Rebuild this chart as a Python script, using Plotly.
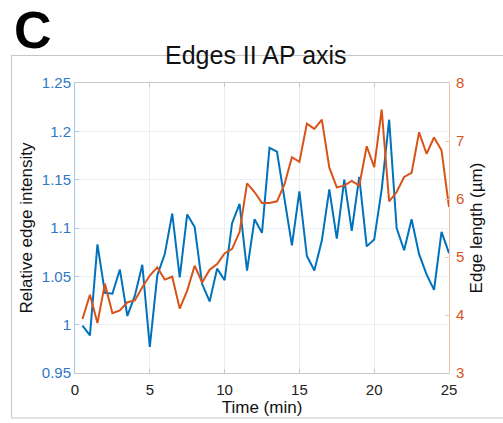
import plotly.graph_objects as go

time_min = [0.5, 1.0, 1.5, 2.0, 2.5, 3.0, 3.5, 4.0, 4.5, 5.0,
            5.5, 6.0, 6.5, 7.0, 7.5, 8.0, 8.5, 9.0, 9.5, 10.0,
            10.5, 11.0, 11.5, 12.0, 12.5, 13.0, 13.5, 14.0, 14.5, 15.0,
            15.5, 16.0, 16.5, 17.0, 17.5, 18.0, 18.5, 19.0, 19.5, 20.0,
            20.5, 21.0, 21.5, 22.0, 22.5, 23.0, 23.5, 24.0, 24.5, 25.0]

rel_intensity = [0.999, 0.989, 1.083, 1.033, 1.032, 1.057, 1.009, 1.030, 1.062, 0.977,
                 1.051, 1.073, 1.115, 1.049, 1.114, 1.101, 1.042, 1.024, 1.058, 1.046,
                 1.105, 1.125, 1.056, 1.109, 1.095, 1.183, 1.179, 1.128, 1.082, 1.138,
                 1.071, 1.056, 1.087, 1.140, 1.089, 1.150, 1.097, 1.153, 1.081, 1.088,
                 1.140, 1.212, 1.100, 1.077, 1.109, 1.073, 1.052, 1.036, 1.096, 1.074]

edge_length = [3.93, 4.35, 3.86, 4.54, 4.03, 4.08, 4.22, 4.25, 4.48, 4.68,
               4.82, 4.61, 4.66, 4.11, 4.42, 4.85, 4.56, 4.78, 4.88, 5.06,
               5.14, 5.43, 6.27, 6.12, 5.93, 5.93, 5.96, 6.25, 6.72, 6.64,
               7.30, 7.21, 7.37, 6.54, 6.20, 6.23, 6.31, 6.23, 6.91, 6.55,
               7.54, 5.96, 6.12, 6.38, 6.45, 7.15, 6.78, 7.06, 6.84, 5.86]

x_ticks = [0, 5, 10, 15, 20, 25]
left_ticks = [0.95, 1.0, 1.05, 1.1, 1.15, 1.2, 1.25]
left_tick_text = ["0.95", "1", "1.05", "1.1", "1.15", "1.2", "1.25"]
right_ticks = [3, 4, 5, 6, 7, 8]

BLUE = "#0072BD"
ORANGE = "#D95319"
FONT = "Liberation Sans, Arial, Helvetica, sans-serif"

fig = go.Figure()
fig.add_trace(go.Scatter(x=time_min, y=rel_intensity, mode="lines",
                         line=dict(color=BLUE, width=2), yaxis="y", showlegend=False))
fig.add_trace(go.Scatter(x=time_min, y=edge_length, mode="lines",
                         line=dict(color=ORANGE, width=2), yaxis="y2", showlegend=False))

fig.update_layout(
    width=503, height=423,
    margin=dict(l=75, r=54, t=83, b=50),
    paper_bgcolor="white", plot_bgcolor="white",
    font=dict(family=FONT, size=15, color="#222222"),
    xaxis=dict(range=[0, 25], tickvals=x_ticks, showgrid=True, gridcolor="#e9eef4",
               zeroline=False, showline=True, linecolor="#c8c8c8", linewidth=1,
               mirror="ticks", ticks="inside", ticklen=4, tickcolor="#c8c8c8",
               ticklabelstandoff=3,
               tickfont=dict(size=15, color="#222222"),
               title=dict(text="Time (min)", font=dict(size=17, color="#111111"), standoff=0)),
    yaxis=dict(range=[0.95, 1.25], tickvals=left_ticks, ticktext=left_tick_text,
               showgrid=True, gridcolor="#e9eef4", zeroline=False,
               showline=True, linecolor="#a9c8e8", linewidth=1,
               ticks="inside", ticklen=4, tickcolor="#a9c8e8",
               tickfont=dict(size=15, color="#2f78c4"),
               title=dict(text="Relative edge intensity", font=dict(size=17, color="#111111"), standoff=4)),
    yaxis2=dict(range=[3, 8], tickvals=right_ticks, overlaying="y", side="right",
                showgrid=False, zeroline=False,
                showline=True, linecolor="#f0c2ab", linewidth=1,
                ticks="inside", ticklen=4, tickcolor="#f0c2ab",
                ticklabelstandoff=3,
                tickfont=dict(size=15, color=ORANGE),
                title=dict(text="Edge length (µm)", font=dict(size=17, color="#111111"), standoff=6)),
)

# Panel frame (gray lines)
fig.add_shape(type="line", xref="paper", yref="paper", x0=-0.170, x1=1.15, y0=1.095, y1=1.095,
              line=dict(color="#c4c4c4", width=1), layer="below")
fig.add_shape(type="line", xref="paper", yref="paper", x0=-0.170, x1=-0.170, y0=1.095, y1=-0.155,
              line=dict(color="#c4c4c4", width=1), layer="below")
fig.add_shape(type="line", xref="paper", yref="paper", x0=-0.170, x1=1.15, y0=-0.155, y1=-0.155,
              line=dict(color="#c4c4c4", width=1), layer="below")

fig.add_annotation(text="Edges II AP axis", xref="paper", yref="paper", x=0.483, y=1.098,
                   xanchor="center", yanchor="middle", showarrow=False,
                   font=dict(size=25, color="#111111", family=FONT))
fig.add_annotation(text="<b>C</b>", xref="paper", yref="paper", x=-0.168, y=1.184,
                   xanchor="left", yanchor="middle", showarrow=False,
                   font=dict(size=52, color="#000000", family=FONT))

fig.write_html("out.html")
